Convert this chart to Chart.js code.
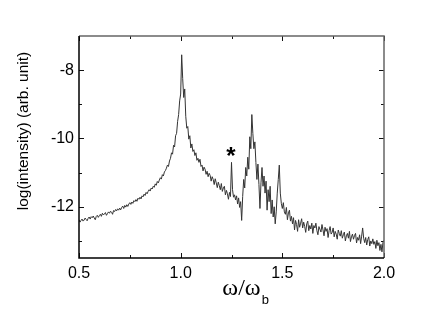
<!DOCTYPE html>
<html>
<head>
<meta charset="utf-8">
<script src="https://cdn.jsdelivr.net/npm/chart.js@4/dist/chart.umd.min.js"></script>
<style>
  html, body { margin: 0; padding: 0; background: #fff; }
  #wrap { width: 446px; height: 311px; }
</style>
</head>
<body>
<div id="wrap"><canvas id="spectrum" width="446" height="311"></canvas></div>
<script>
// ---- data (omega/omega_b from 0.5 to 2.0, step 0.005) ----
const omegaStart = 0.5;
const omegaStep = 0.005;
const logIntensity = [
  -12.38, -12.45, -12.40, -12.36, -12.42, -12.39, -12.33, -12.37, -12.41, -12.34,
  -12.30, -12.36, -12.29, -12.32, -12.27, -12.33, -12.38, -12.28, -12.25, -12.31,
  -12.26, -12.22, -12.28, -12.19, -12.24, -12.21, -12.17, -12.25, -12.20, -12.15,
  -12.19, -12.13, -12.16, -12.22, -12.11, -12.14, -12.08, -12.12, -12.06, -12.10,
  -12.04, -12.09, -12.02, -11.98, -12.05, -11.96, -12.01, -11.94, -11.99, -11.92,
  -11.88, -11.93, -11.86, -11.90, -11.82, -11.85, -11.79, -11.84, -11.75, -11.78,
  -11.72, -11.77, -11.68, -11.71, -11.63, -11.67, -11.58, -11.62, -11.55, -11.50,
  -11.54, -11.45, -11.48, -11.40, -11.43, -11.33, -11.37, -11.26, -11.30, -11.22,
  -11.15, -11.19, -11.06, -11.10, -10.98, -10.94, -10.87, -10.78, -10.82, -10.66,
  -10.58, -10.42, -10.46, -10.20, -10.25, -9.92, -9.85, -9.50, -9.30, -8.90,
  -8.70, -7.55, -8.25, -8.80, -8.55, -9.35, -9.70, -9.65, -10.02, -9.92,
  -10.28, -10.16, -10.38, -10.33, -10.50, -10.42, -10.64, -10.58, -10.70, -10.61,
  -10.82, -10.78, -10.95, -10.84, -10.90, -11.05, -10.96, -11.12, -11.02, -11.08,
  -11.25, -11.12, -11.20, -11.35, -11.18, -11.30, -11.44, -11.28, -11.38, -11.50,
  -11.32, -11.55, -11.45, -11.40, -11.65, -11.52, -11.62, -11.78, -11.58, -11.70,
  -10.70, -11.50, -11.72, -11.65, -11.80, -11.68, -11.92, -11.74, -12.02, -11.85,
  -12.40, -11.70, -11.20, -11.45, -10.85, -11.10, -10.55, -10.90, -9.95, -10.30,
  -9.30, -9.85, -10.30, -10.10, -10.70, -11.20, -10.75, -11.35, -12.05, -11.30,
  -10.85, -11.40, -11.10, -11.60, -11.25, -12.10, -11.50, -11.85, -11.40, -12.20,
  -11.80, -12.30, -12.00, -12.50, -12.15, -11.60, -11.20, -10.78, -11.60, -11.90,
  -12.05, -11.88, -12.15, -12.22, -12.02, -12.38, -12.18, -12.10, -12.42, -12.28,
  -12.50, -12.32, -12.68, -12.40, -12.52, -12.72, -12.38, -12.60, -12.48, -12.35,
  -12.62, -12.45, -12.58, -12.75, -12.50, -12.42, -12.70, -12.55, -12.65, -12.48,
  -12.78, -12.55, -12.62, -12.48, -12.70, -12.82, -12.58, -12.66, -12.74, -12.52,
  -12.68, -12.85, -12.60, -12.72, -12.64, -12.90, -12.70, -12.58, -12.80, -12.75,
  -12.62, -12.88, -12.72, -12.80, -12.95, -12.68, -12.78, -12.86, -12.70, -12.92,
  -12.82, -12.74, -13.00, -12.85, -12.78, -12.92, -12.72, -13.02, -12.88, -12.80,
  -12.95, -12.84, -12.78, -13.06, -12.90, -12.98, -12.82, -13.08, -12.86, -12.62,
  -12.92, -13.05, -12.90, -13.12, -12.96, -12.88, -13.15, -13.00, -13.08, -12.94,
  -13.10, -13.02, -13.22, -12.98, -13.14, -13.05, -13.28, -13.10, -13.32, -13.04,
  -12.98
];

const xTicksMajor = [0.5, 1.0, 1.5, 2.0];
const xTicksMinor = [0.75, 1.25, 1.75];
const yTicksMajor = [-12, -10, -8];
const yTicksMinor = [-13, -11, -9];

const yTitle = 'log(intensity) (arb. unit)';
const xTitleMain = 'ω/ω';
const xTitleSub = 'b';
// the starred peak
const markOmega = 1.247;
const markValue = -10.38;

const points = logIntensity.map((v, i) => ({ x: +(omegaStart + i * omegaStep).toFixed(3), y: v }));

const FONT = '"Liberation Sans", Arial, Helvetica, sans-serif';

// frame, inward ticks, titles and the star
const decor = {
  id: 'decor',
  afterDraw(chart) {
    const { ctx, chartArea: a, scales: { x, y } } = chart;
    ctx.save();

    ctx.lineWidth = 1;
    ctx.strokeStyle = '#111';
    const tick = (x0, y0, x1, y1) => {
      ctx.beginPath(); ctx.moveTo(x0, y0); ctx.lineTo(x1, y1); ctx.stroke();
    };
    xTicksMajor.forEach(v => {
      const p = Math.round(x.getPixelForValue(v)) + 0.5;
      tick(p, a.bottom, p, a.bottom - 5);
      tick(p, a.top, p, a.top + 5);
    });
    xTicksMinor.forEach(v => {
      const p = Math.round(x.getPixelForValue(v)) + 0.5;
      tick(p, a.bottom, p, a.bottom - 3);
      tick(p, a.top, p, a.top + 3);
    });
    yTicksMajor.forEach(v => {
      const p = Math.round(y.getPixelForValue(v)) + 0.5;
      tick(a.left, p, a.left + 5, p);
      tick(a.right, p, a.right - 5, p);
    });
    yTicksMinor.forEach(v => {
      const p = Math.round(y.getPixelForValue(v)) + 0.5;
      tick(a.left, p, a.left + 3, p);
      tick(a.right, p, a.right - 3, p);
    });

    // frame
    ctx.lineWidth = 1.5;
    ctx.strokeStyle = '#666';
    ctx.beginPath();
    ctx.moveTo(a.left, a.top); ctx.lineTo(a.right, a.top); ctx.lineTo(a.right, a.bottom);
    ctx.stroke();
    ctx.strokeStyle = '#000';
    ctx.beginPath();
    ctx.moveTo(a.left, a.top); ctx.lineTo(a.left, a.bottom); ctx.lineTo(a.right, a.bottom);
    ctx.stroke();

    ctx.fillStyle = '#000';
    // y title
    ctx.save();
    ctx.translate(24, (a.top + a.bottom) / 2 - 16);
    ctx.rotate(-Math.PI / 2);
    ctx.font = '15.5px ' + FONT;
    ctx.textAlign = 'center';
    ctx.textBaseline = 'middle';
    ctx.fillText(yTitle, 0, 0);
    ctx.restore();

    // x title with subscript
    ctx.font = '24px "Liberation Serif", "Times New Roman", serif';
    ctx.textAlign = 'left';
    ctx.textBaseline = 'alphabetic';
    const w = ctx.measureText(xTitleMain).width;
    const tx = (a.left + a.right) / 2 + 10 - w / 2;
    ctx.fillText(xTitleMain, tx, a.bottom + 37);
    ctx.font = '13px ' + FONT;
    ctx.fillText(xTitleSub, tx + w + 1, a.bottom + 46);

    // star above the 1.25 peak
    ctx.font = 'bold 24px ' + FONT;
    ctx.textAlign = 'center';
    const m = ctx.measureText('*');
    const sx = x.getPixelForValue(markOmega);
    const sy = y.getPixelForValue(markValue);
    ctx.fillText('*', sx, sy + (m.actualBoundingBoxAscent - m.actualBoundingBoxDescent) / 2);

    ctx.restore();
  }
};

new Chart(document.getElementById('spectrum'), {
  type: 'line',
  data: {
    datasets: [{
      data: points,
      borderColor: '#333',
      borderWidth: 1,
      pointRadius: 0,
      tension: 0
    }]
  },
  options: {
    responsive: false,
    animation: false,
    devicePixelRatio: 1,
    layout: { padding: { left: 0, right: 62, top: 36, bottom: 0 } },
    plugins: { legend: { display: false }, tooltip: { enabled: false } },
    scales: {
      x: {
        type: 'linear',
        min: 0.5,
        max: 2.0,
        afterBuildTicks: s => { s.ticks = xTicksMajor.map(v => ({ value: v })); },
        afterFit: s => { s.height = 53; },
        grid: { display: false, drawTicks: false },
        border: { display: false },
        ticks: {
          color: '#000',
          padding: 6,
          font: { family: FONT, size: 16 },
          callback: v => v.toFixed(1)
        }
      },
      y: {
        type: 'linear',
        min: -13.5,
        max: -7,
        afterBuildTicks: s => { s.ticks = yTicksMajor.map(v => ({ value: v })); },
        afterFit: s => { s.width = 79; },
        grid: { display: false, drawTicks: false },
        border: { display: false },
        ticks: {
          color: '#000',
          padding: 5,
          font: { family: FONT, size: 16 },
          callback: v => String(v)
        }
      }
    }
  },
  plugins: [decor]
});
</script>
</body>
</html>
